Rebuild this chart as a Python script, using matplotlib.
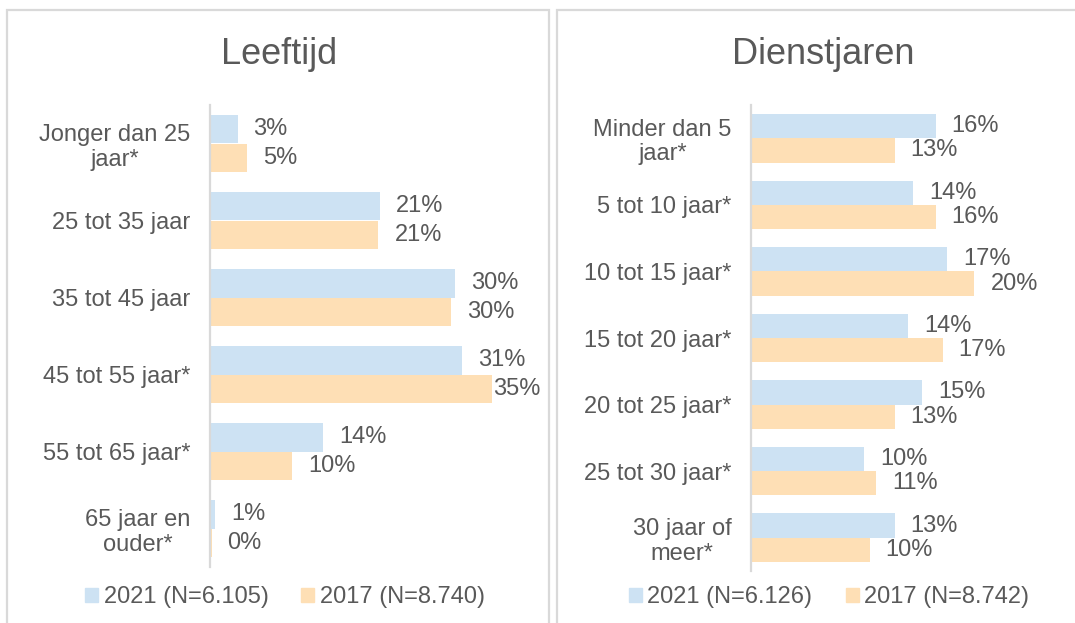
import matplotlib.pyplot as plt
from matplotlib.patches import Rectangle, Patch

plt.rcParams['font.family'] = ['Liberation Sans', 'DejaVu Sans']

# Leeftijd
age_labels = ['Jonger dan 25\njaar*', '25 tot 35 jaar', '35 tot 45 jaar',
              '45 tot 55 jaar*', '55 tot 65 jaar*', '65 jaar en\nouder*']
age_2021 = [3.4, 21.0, 30.2, 31.1, 14.0, 0.6]
age_2017 = [4.6, 20.8, 29.8, 34.8, 10.1, 0.2]
age_legend = ['2021 (N=6.105)', '2017 (N=8.740)']

# Dienstjaren
serv_labels = ['Minder dan 5\njaar*', '5 tot 10 jaar*', '10 tot 15 jaar*',
               '15 tot 20 jaar*', '20 tot 25 jaar*', '25 tot 30 jaar*',
               '30 jaar of\nmeer*']
serv_2021 = [16.2, 14.2, 17.2, 13.8, 15.0, 9.9, 12.6]
serv_2017 = [12.6, 16.2, 19.6, 16.8, 12.6, 11.0, 10.4]
serv_legend = ['2021 (N=6.126)', '2017 (N=8.742)']

BLUE = '#CDE2F3'
ORANGE = '#FEDFB5'
TXT = '#595959'
GRID = '#D9D9D9'

W, H = 1075, 623
fig = plt.figure(figsize=(W / 100, H / 100), dpi=100)


def px_box(x0, y0, x1, y1):
    return [x0 / W, 1 - y1 / H, (x1 - x0) / W, (y1 - y0) / H]


# panel frames
for x0, x1 in [(7, 549), (557, 1085)]:
    fig.patches.append(Rectangle((x0 / W, -0.1), (x1 - x0) / W, 1.1 - 10 / H,
                                 transform=fig.transFigure, fill=False,
                                 edgecolor=GRID, linewidth=1.6))


def panel(box, title, title_x, labels, v21, v17, xmax, legend, leg_x):
    ax = fig.add_axes(box)
    n = len(labels)
    ys = list(range(n))
    h = 0.365
    ax.barh([y - h / 2 for y in ys], v21, height=h, color=BLUE)
    ax.barh([y + h / 2 for y in ys], v17, height=h, color=ORANGE)
    ax.set_ylim(n - 0.5, -0.5)
    ax.set_xlim(0, xmax)
    ax.set_yticks(ys)
    ax.set_yticklabels(labels, fontsize=17, color=TXT, multialignment='center',
                       linespacing=1.15)
    ax.tick_params(axis='y', length=0, pad=14)
    ax.set_xticks([])
    for s in ['top', 'right', 'bottom']:
        ax.spines[s].set_visible(False)
    ax.spines['left'].set_color(GRID)
    ax.spines['left'].set_linewidth(1.6)
    ax.patch.set_alpha(0)
    for vals, off in [(v21, -h / 2), (v17, h / 2)]:
        for y, v in zip(ys, vals):
            txt = '%d%%' % round(v)
            if v + xmax * 0.2 > xmax:
                ax.text(xmax, y + off, txt, ha='right', va='center',
                        fontsize=17, color=TXT)
            else:
                ax.annotate(txt, (v, y + off), xytext=(11.5, 0),
                            textcoords='offset points', ha='left',
                            va='center', fontsize=17, color=TXT)
    fig.text(title_x, 1 - 54 / H, title, ha='center', va='center',
             fontsize=26, color=TXT)
    handles = [Patch(color=BLUE), Patch(color=ORANGE)]
    fig.legend(handles, legend, loc='center', bbox_to_anchor=(leg_x, 1 - 597 / H),
               ncol=2, frameon=False, fontsize=17, labelcolor=TXT,
               handlelength=0.55, handleheight=0.55, handletextpad=0.25,
               columnspacing=1.4)
    return ax


panel(px_box(210, 105, 540, 567), 'Leeftijd', 279 / W,
      age_labels, age_2021, age_2017, (540 - 210) / 8.1, age_legend, 285 / W)
panel(px_box(751, 105, 1050, 571), 'Dienstjaren', 823 / W,
      serv_labels, serv_2021, serv_2017, (1050 - 751) / 11.4, serv_legend, 829 / W)

fig.savefig('out.png', dpi=100)
